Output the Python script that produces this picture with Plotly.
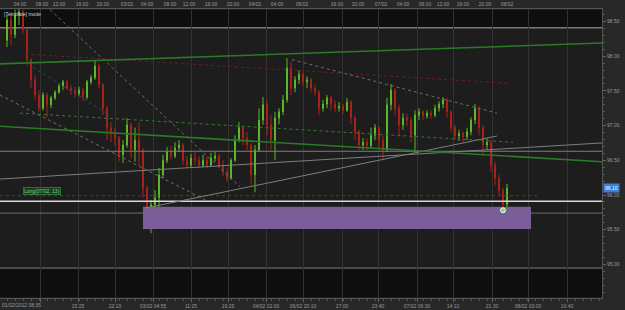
import plotly.graph_objects as go

# ---------------- data ----------------
first_open = 98.23
closes = [98.52, 98.31, 98.59, 98.64, 98.38, 97.95, 97.66, 97.44, 97.25, 97.44,
          97.30, 97.40, 97.48, 97.57, 97.63, 97.54, 97.51, 97.46, 97.51, 97.41,
          97.63, 97.69, 97.86, 97.59, 97.25, 96.97, 96.91, 96.82, 96.58, 96.72,
          97.01, 96.65, 96.79, 96.65, 96.10, 95.71, 95.86, 95.96, 96.29, 96.50,
          96.62, 96.56, 96.68, 96.72, 96.50, 96.43, 96.53, 96.50, 96.43, 96.50,
          96.43, 96.53, 96.56, 96.43, 96.33, 96.24, 96.50, 96.79, 96.97, 96.82,
          96.72, 96.29, 96.65, 97.08, 97.30, 97.01, 96.79, 97.11, 97.20, 97.37,
          97.83, 97.54, 97.66, 97.74, 97.63, 97.66, 97.54, 97.48, 97.25, 97.31,
          97.40, 97.31, 97.25, 97.28, 97.22, 97.34, 97.11, 96.91, 96.72, 96.76,
          96.71, 96.86, 96.97, 96.79, 96.65, 97.30, 97.51, 97.25, 97.01, 97.11,
          97.08, 96.86, 97.15, 97.20, 97.14, 97.18, 97.15, 97.25, 97.31, 97.37,
          97.20, 96.97, 96.85, 96.89, 96.84, 96.91, 97.08, 97.25, 96.97, 96.72,
          96.76, 96.43, 96.24, 96.07, 95.86, 96.10]
highs = [98.59, 98.64, 98.67, 98.69, 98.67, 98.41, 97.97, 97.73, 97.51, 97.48,
         97.47, 97.43, 97.51, 97.60, 97.66, 97.66, 97.59, 97.56, 97.56, 97.54,
         97.66, 97.73, 97.93, 97.89, 97.61, 97.28, 97.05, 96.97, 96.85, 96.79,
         97.11, 97.05, 96.97, 97.05, 96.68, 96.14, 95.93, 96.07, 96.39, 96.58,
         96.69, 96.71, 96.76, 96.79, 96.75, 96.56, 96.59, 96.62, 96.56, 96.58,
         96.56, 96.61, 96.62, 96.59, 96.50, 96.39, 96.53, 96.86, 97.05, 96.99,
         96.91, 96.75, 96.72, 97.25, 97.41, 97.37, 97.15, 97.20, 97.25, 97.44,
         97.97, 97.92, 97.71, 97.80, 97.77, 97.71, 97.69, 97.59, 97.51, 97.37,
         97.44, 97.43, 97.37, 97.34, 97.31, 97.40, 97.37, 97.14, 96.94, 96.82,
         96.82, 96.97, 97.02, 96.99, 96.86, 97.40, 97.60, 97.54, 97.30, 97.18,
         97.17, 97.12, 97.22, 97.25, 97.22, 97.22, 97.22, 97.30, 97.35, 97.41,
         97.40, 97.22, 97.01, 96.94, 96.92, 96.97, 97.12, 97.31, 97.28, 97.01,
         96.82, 96.79, 96.48, 96.29, 96.10, 96.16]
lows = [98.13, 98.16, 98.26, 98.45, 98.33, 97.87, 97.54, 97.37, 97.20, 97.22,
        97.12, 97.25, 97.37, 97.46, 97.51, 97.51, 97.44, 97.40, 97.43, 97.35,
        97.38, 97.59, 97.66, 97.54, 97.15, 96.79, 96.76, 96.71, 96.48, 96.46,
        96.68, 96.53, 96.48, 96.42, 95.96, 95.52, 95.45, 95.71, 95.78, 96.24,
        96.46, 96.50, 96.53, 96.62, 96.43, 96.39, 96.40, 96.43, 96.39, 96.40,
        96.39, 96.42, 96.48, 96.39, 96.27, 96.19, 96.22, 96.48, 96.76, 96.72,
        96.65, 96.14, 96.04, 96.62, 97.01, 96.86, 96.65, 96.50, 97.02, 97.15,
        97.33, 97.44, 97.48, 97.60, 97.57, 97.54, 97.48, 97.43, 97.15, 97.20,
        97.25, 97.22, 97.20, 97.20, 97.17, 97.20, 97.02, 96.79, 96.65, 96.65,
        96.65, 96.68, 96.79, 96.68, 96.50, 96.62, 97.22, 97.15, 96.84, 96.94,
        96.99, 96.76, 96.62, 97.08, 97.08, 97.10, 97.10, 97.12, 97.20, 97.25,
        97.11, 96.91, 96.79, 96.78, 96.76, 96.79, 96.86, 97.02, 96.86, 96.58,
        96.65, 96.33, 96.14, 95.99, 95.80, 95.80]
opens = [first_open] + closes[:-1]
bars = list(range(len(closes)))

# time axis (bar-index positions) and labels
bottom_tick_pos = [8.25, 17.75, 27, 36.5, 46, 55.25, 64.75, 74, 83.75, 92.75,
                   102.5, 111.5, 121.25, 130.25, 140]
bottom_tick_text = ["", "15:25", "22:10", "03/02 04:55", "11:25", "19:25", "04/02 02:00",
                    "06/02 20:10", "17:00", "23:40", "07/02 06:30", "14:10", "21:30",
                    "08/02 03:00", "10:40"]
first_label = "01/02/2012 08:35"
top_tick_pos = [3.25, 8.75, 13, 18.75, 24, 30, 35, 40.75, 45.5, 51, 56.5, 62, 67.5,
                73.75, 82.5, 87.75, 93.5, 99, 104.5, 109, 114, 119.5, 125]
top_tick_text = ["04:00", "08:00", "12:00", "16:00", "20:00", "03/02", "04:00", "08:00",
                 "12:00", "16:00", "20:00", "04/02", "04:00", "06/02", "16:00", "20:00",
                 "07/02", "04:00", "08:00", "12:00", "16:00", "20:00", "08/02"]
price_ticks = [95.0, 95.5, 96.0, 96.5, 97.0, 97.5, 98.0, 98.5]
price_tick_text = ["95.00", "95.50", "96.00", "96.50", "97.00", "97.50", "98.00", "98.50"]

# drawn objects: (start bar, start price, end bar, end price)
solid_green = [(-1.75, 97.89, 148.75, 98.19), (-1.75, 96.99, 148.75, 96.48)]
solid_gray = [(-1.75, 96.23, 148.75, 96.75), (-1.75, 96.63, 148.75, 96.63),
              (34.5, 95.81, 122.5, 96.85)]
dotted_green = [(3.25, 97.18, 126.5, 96.76)]
dotted_red = [(4.5, 98.03, 125, 97.61)]
dotted_gray = [(71.25, 97.95, 122.5, 97.18), (10.75, 98.67, 58.25, 96.12),
               (-1.75, 97.44, 49.5, 95.93)]
dotted_blue = [(6.5, 97.84, 25.75, 97.15)]
dotted_level = (-1.75, 95.99, 133.25)
white_level = 95.91
gray_level = 95.74
zone = dict(x0=34, x1=131, y0=95.51, y1=95.83)
signal_point = (124, 95.78)
last_price = 96.10
x_range = [-1.75, 148.75]
y_range = [94.516, 98.680]
top_band = (98.42, 98.666)
bottom_band = (94.53, 94.93)
top_sep = 98.41
bottom_sep = 94.95
marker_level = 98.705

# ---------------- figure ----------------
fig = go.Figure()

# purple zone
fig.add_trace(go.Scatter(
    x=[zone["x0"], zone["x1"], zone["x1"], zone["x0"], zone["x0"]],
    y=[zone["y0"], zone["y0"], zone["y1"], zone["y1"], zone["y0"]],
    fill="toself", fillcolor="#7b5d9b", line=dict(width=0), mode="lines",
    hoverinfo="skip", showlegend=False))

def add_lines(segs, color, width, dash):
    for (x0, y0, x1, y1) in segs:
        fig.add_trace(go.Scatter(x=[x0, x1], y=[y0, y1], mode="lines",
                                 line=dict(color=color, width=width, dash=dash),
                                 hoverinfo="skip", showlegend=False))

add_lines([(x_range[0], white_level, x_range[1], white_level)], "#d8d8d8", 1.5, "solid")
add_lines([(x_range[0], gray_level, x_range[1], gray_level)], "#6e6e6e", 1, "solid")
add_lines([(dotted_level[0], dotted_level[1], dotted_level[2], dotted_level[1])], "#444444", 1, "dot")
add_lines(solid_gray, "#7e7e7e", 1, "solid")
add_lines(dotted_gray, "#6e6e6e", 1, "dot")
add_lines(dotted_blue, "#30466c", 1, "dot")
add_lines(dotted_red, "#7a1a1a", 1, "dot")
add_lines(dotted_green, "#357a2e", 1, "dot")
add_lines(solid_green, "#2b7a28", 1.6, "solid")

fig.add_trace(go.Candlestick(
    x=bars, open=opens, high=highs, low=lows, close=closes,
    increasing=dict(line=dict(color="#5cb82a", width=1), fillcolor="#5cb82a"),
    decreasing=dict(line=dict(color="#a8221b", width=1), fillcolor="#a8221b"),
    whiskerwidth=0, hoverinfo="skip", showlegend=False))

fig.add_trace(go.Scatter(x=[signal_point[0]], y=[signal_point[1]], mode="markers",
                         marker=dict(size=5, color="#8fd46a", line=dict(color="#e8ffe0", width=1)),
                         hoverinfo="skip", showlegend=False))

# top time markers (yellow triangles) on the top time axis
fig.add_trace(go.Scatter(x=top_tick_pos, y=[marker_level] * len(top_tick_pos),
                         xaxis="x2", mode="markers", cliponaxis=False,
                         marker=dict(symbol="triangle-down", size=5, color="#d9b24c"),
                         hoverinfo="skip", showlegend=False))

shapes = [
    dict(type="rect", xref="paper", yref="y", x0=0, x1=1, y0=top_band[0], y1=top_band[1],
         fillcolor="#0e0e0e", line=dict(width=0), layer="below"),
    dict(type="rect", xref="paper", yref="y", x0=0, x1=1, y0=bottom_band[0], y1=bottom_band[1],
         fillcolor="#0e0e0e", line=dict(width=0), layer="below"),
    dict(type="line", xref="paper", yref="y", x0=0, x1=1, y0=top_sep, y1=top_sep,
         line=dict(color="#7a7a7a", width=1.5), layer="below"),
    dict(type="line", xref="paper", yref="y", x0=0, x1=1, y0=bottom_sep, y1=bottom_sep,
         line=dict(color="#5a5a5a", width=1.5), layer="below"),
]

annotations = [
    dict(x=0, xref="paper", xanchor="left", xshift=2, y=98.61, yref="y",
         text="[Template] mode", showarrow=False, font=dict(size=5, color="#cfcfcf")),
    dict(x=4, xref="x", xanchor="left", y=96.06, yref="y", text="Long(07/02, 13)",
         showarrow=False, font=dict(size=5, color="#7fd57a"), bgcolor="#173d20",
         bordercolor="#2f6f3a", borderwidth=1, borderpad=0),
    dict(x=1, xref="paper", xanchor="left", xshift=1, y=last_price, yref="y",
         text=f"{last_price:.2f}", showarrow=False, font=dict(size=5, color="#ffffff"),
         bgcolor="#3a7fd6", borderpad=1),
    dict(x=0, xref="paper", xanchor="left", y=0, yref="paper", yanchor="top", yshift=-2,
         text=first_label, showarrow=False, font=dict(size=5, color="#9a9a9a")),
]

fig.update_layout(
    width=625, height=310,
    margin=dict(l=0, r=23, t=9, b=12),
    paper_bgcolor="#282828", plot_bgcolor="#1d1d1d",
    boxgap=0.65,
    font=dict(family="Liberation Sans, Arial, sans-serif", size=5, color="#9a9a9a"),
    shapes=shapes, annotations=annotations, showlegend=False,
    xaxis=dict(range=x_range, rangeslider=dict(visible=False),
               tickmode="array", tickvals=bottom_tick_pos, ticktext=bottom_tick_text,
               showgrid=True, gridcolor="#323232", gridwidth=1, zeroline=False,
               showline=True, linecolor="#555555", ticks="outside", ticklen=3,
               tickcolor="#666666", tickfont=dict(size=5, color="#9a9a9a"),
               minor=dict(dtick=2, ticks="outside", ticklen=2, tickcolor="#555555")),
    xaxis2=dict(range=x_range, overlaying="x", side="top", anchor="y",
                tickmode="array", tickvals=top_tick_pos, ticktext=top_tick_text,
                showgrid=False, zeroline=False, showline=True, linecolor="#555555",
                ticks="", tickfont=dict(size=5, color="#9a9a9a")),
    yaxis=dict(range=y_range, side="right", tickmode="array", tickvals=price_ticks,
               ticktext=price_tick_text, showgrid=False, zeroline=False,
               showline=True, linecolor="#555555", ticks="outside", ticklen=3,
               tickcolor="#666666", tickfont=dict(size=5, color="#9a9a9a"),
               minor=dict(dtick=0.1, ticks="outside", ticklen=2, tickcolor="#555555")),
)

fig.write_html("out.html")
